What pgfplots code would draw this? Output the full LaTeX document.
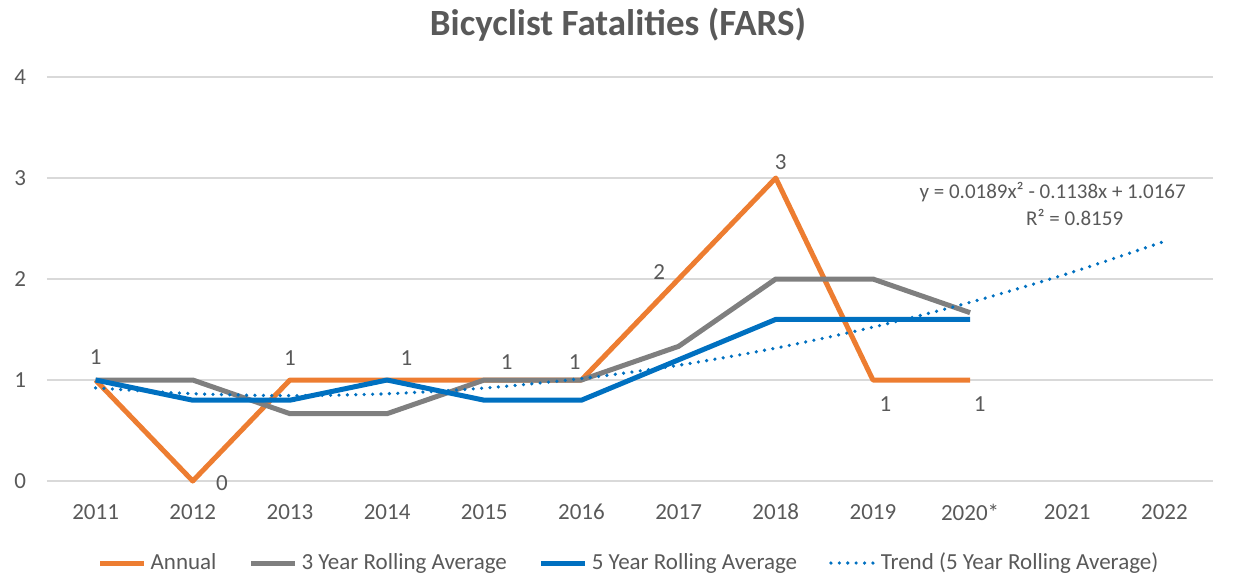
\documentclass[border=0pt]{standalone}
\usepackage{pgfplots}
\pgfplotsset{compat=1.18}
\usepackage{fontspec}
\setmainfont{Carlito}
\definecolor{cOr}{HTML}{ED7D31}
\definecolor{cGr}{HTML}{7F7F7F}
\definecolor{cBl}{HTML}{0070C0}
\definecolor{cTx}{HTML}{595959}
\definecolor{cGd}{HTML}{D9D9D9}
\begin{document}
\begin{tikzpicture}[x=1pt,y=1pt]
\useasboundingbox (-23.5pt,-47pt) rectangle (594.5pt,240.5pt);
\begin{axis}[
  scale only axis, width=583pt, height=202pt,
  xmin=0.5, xmax=12.5, ymin=0, ymax=4,
  axis line style={draw=none},
  xtick={1,...,12},
  xticklabels={2011,2012,2013,2014,2015,2016,2017,2018,2019,2020*,2021,2022},
  ytick={0,1,2,3,4},
  major tick length=0pt,
  ymajorgrids, grid style={cGd, line width=0.8pt},
  tick label style={font=\fontsize{11.5}{13}\selectfont, text=cTx},
  /pgf/number format/assume math mode=true,
  xticklabel style={yshift=-8pt},
  yticklabel style={xshift=-7pt},
  legend style={at={(0.5,0)}, anchor=center, yshift=-41pt, draw=none, fill=none,
    font=\fontsize{11.5}{13}\selectfont, text=cTx, legend columns=-1,
    /tikz/every even column/.append style={column sep=14pt}},
  legend image code/.code={\draw[#1] (0pt,0pt) -- (22pt,0pt);},
  clip=false,
]
\addplot[cOr, line width=2.5pt, line join=round] coordinates {(1,1)(2,0)(3,1)(4,1)(5,1)(6,1)(7,2)(8,3)(9,1)(10,1)};
\addlegendentry{Annual}
\addplot[cGr, line width=2.5pt, line join=round] coordinates {(1,1)(2,1)(3,0.6667)(4,0.6667)(5,1)(6,1)(7,1.3333)(8,2)(9,2)(10,1.6667)};
\addlegendentry{3 Year Rolling Average}
\addplot[cBl, line width=2.5pt, line join=round] coordinates {(1,1)(2,0.8)(3,0.8)(4,1)(5,0.8)(6,0.8)(7,1.2)(8,1.6)(9,1.6)(10,1.6)};
\addlegendentry{5 Year Rolling Average}
\addplot[cBl, line width=1.8pt, dash pattern=on 0pt off 4.2pt, line cap=round, smooth] coordinates {(1,0.9218)(2,0.8647)(3,0.8454)(4,0.8639)(5,0.9202)(6,1.0143)(7,1.1462)(8,1.3159)(9,1.5234)(10,1.7687)(11,2.0518)(12,2.3727)};
\addlegendentry{Trend (5 Year Rolling Average)}
\begin{scope}[every node/.style={font=\fontsize{11.5}{13}\selectfont, text=cTx}]
\node at (axis cs:1,1.23) {1};
\node at (axis cs:2.3,-0.02) {0};
\node at (axis cs:3,1.22) {1};
\node at (axis cs:4.2,1.22) {1};
\node at (axis cs:5.23,1.18) {1};
\node at (axis cs:5.93,1.18) {1};
\node at (axis cs:6.8,2.07) {2};
\node at (axis cs:8.05,3.16) {3};
\node at (axis cs:9.13,0.76) {1};
\node at (axis cs:10.1,0.76) {1};
\node[align=center, font=\fontsize{10.5}{13.5}\selectfont] at (axis cs:10.85,2.74) {y = 0.0189x² - 0.1138x + 1.0167\\ \hspace*{22pt}R² = 0.8159};
\end{scope}
\end{axis}
\node[font=\bfseries\fontsize{18.5}{22}\selectfont, text=cTx] at (285.5pt,228pt) {Bicyclist Fatalities (FARS)};
\end{tikzpicture}
\end{document}
